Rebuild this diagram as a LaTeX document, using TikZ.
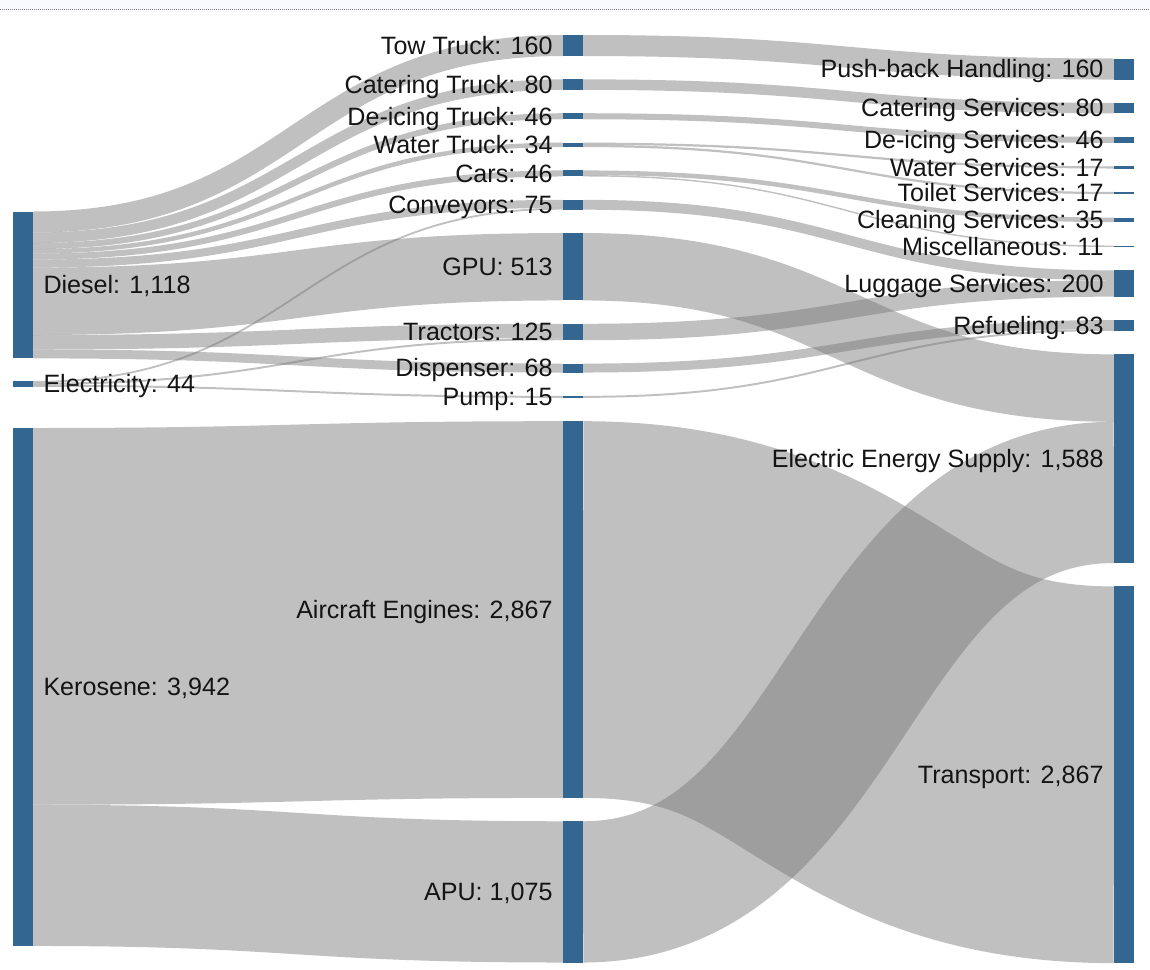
\documentclass[tikz,border=0pt]{standalone}
\usepackage{fontspec}
\setmainfont{Liberation Sans}
\usetikzlibrary{calc}
\pgfdeclarelayer{bands}
\pgfsetlayers{bands,main}

\definecolor{barblue}{RGB}{51,102,145}
\definecolor{bandgray}{RGB}{118,118,118}
\definecolor{inktext}{RGB}{20,20,20}
\definecolor{panel}{RGB}{248,250,253}
\definecolor{rule}{RGB}{120,120,120}

% pixels per unit of flow
\def\skk{0.1314}

% a node bar: name, x, top, value
\newcommand\sknode[4]{%
  \pgfmathsetmacro\skh{max(1,#4*\skk)}%
  \node[skbar, minimum height=\skh pt, anchor=north west] (#1) at (#2,#3) {};%
}
% label to the right / left of a bar
\newcommand\sklabelR[2]{\node[sklbl, anchor=base west] (#1-l) at ($(#1.east)+(10.5,8.8)$) {#2};}
\newcommand\sklabelL[2]{\node[sklbl, anchor=base east] (#1-l) at ($(#1.west)+(-10.5,8.8)$) {#2};}
% a band: source, offset in source, target, offset in target, value
\newcommand\skflow[5]{%
  \pgfmathsetmacro\skw{max(1,#5*\skk)}%
  \pgfmathsetmacro\sks{(#2+#5/2)*\skk}%
  \pgfmathsetmacro\skt{(#4+#5/2)*\skk}%
  \draw[flowband, line width=\skw pt]
    let \p1=($(#1.north east)+(0,\sks)$), \p2=($(#3.north west)+(0,\skt)$) in
    (\p1) .. controls ({(\x1+\x2)/2},\y1) and ({(\x1+\x2)/2},\y2) .. (\p2);%
}

\tikzset{
  skbar/.style={fill=barblue, draw=none, minimum width=20pt, inner sep=0pt, outer sep=0pt},
  sklbl/.style={inner sep=0pt, outer sep=0pt, text=inktext, font=\fontsize{25.1pt}{30pt}\selectfont},
  flowband/.style={draw=bandgray, draw opacity=0.46, line cap=butt},
}

\begin{document}
\begin{tikzpicture}[x=1pt, y=-1pt]
\useasboundingbox (0,0) rectangle (1150,969);
\fill[panel] (0,0) rectangle (1150,9.5);
\draw[rule, line width=1pt, dash pattern=on 1pt off 1pt] (0,9.5) -- (1150,9.5);

% sources
\sknode{diesel}{13}{211.5}{1118}
\sknode{elec}{13}{381}{44}
\sknode{kero}{13}{428}{3942}

% equipment
\sknode{towT}{563}{35}{160}
\sknode{catT}{563}{79.37}{80}
\sknode{deiT}{563}{113.23}{46}
\sknode{watT}{563}{142.62}{34}
\sknode{cars}{563}{170.44}{46}
\sknode{conv}{563}{199.83}{75}
\sknode{gpu}{563}{233.04}{513}
\sknode{tract}{563}{323.8}{125}
\sknode{disp}{563}{363.58}{68}
\sknode{pump}{563}{395.87}{15}
\sknode{eng}{563}{421.19}{2867}
\sknode{apu}{563}{821.26}{1075}

% services
\sknode{push}{1114}{58.5}{160}
\sknode{catS}{1114}{102.92}{80}
\sknode{deiS}{1114}{136.83}{46}
\sknode{watS}{1114}{166.27}{17}
\sknode{toil}{1114}{191.9}{17}
\sknode{clean}{1114}{217.53}{35}
\sknode{misc}{1114}{245.53}{11}
\sknode{lugg}{1114}{270.38}{200}
\sknode{refuel}{1114}{320.06}{83}
\sknode{ees}{1114}{354.37}{1588}
\sknode{trans}{1114}{586.43}{2867}

\begin{pgfonlayer}{bands}
\skflow{diesel}{0}{towT}{0}{160}
\skflow{diesel}{160}{catT}{0}{80}
\skflow{diesel}{240}{deiT}{0}{46}
\skflow{diesel}{286}{watT}{0}{34}
\skflow{diesel}{320}{cars}{0}{46}
\skflow{diesel}{366}{conv}{0}{61}
\skflow{diesel}{427}{gpu}{0}{513}
\skflow{diesel}{940}{tract}{0}{110}
\skflow{diesel}{1050}{disp}{0}{68}
\skflow{elec}{0}{conv}{61}{14}
\skflow{elec}{14}{tract}{110}{15}
\skflow{elec}{29}{pump}{0}{15}
\skflow{kero}{0}{eng}{0}{2867}
\skflow{kero}{2867}{apu}{0}{1075}

\skflow{towT}{0}{push}{0}{160}
\skflow{catT}{0}{catS}{0}{80}
\skflow{deiT}{0}{deiS}{0}{46}
\skflow{watT}{0}{watS}{0}{17}
\skflow{watT}{17}{toil}{0}{17}
\skflow{cars}{0}{clean}{0}{35}
\skflow{cars}{35}{misc}{0}{11}
\skflow{conv}{0}{lugg}{0}{75}
\skflow{tract}{0}{lugg}{75}{125}
\skflow{gpu}{0}{ees}{0}{513}
\skflow{apu}{0}{ees}{513}{1075}
\skflow{disp}{0}{refuel}{0}{68}
\skflow{pump}{0}{refuel}{68}{15}
\skflow{eng}{0}{trans}{0}{2867}
\end{pgfonlayer}

% labels
\sklabelR{diesel}{Diesel: 1,118}
\sklabelR{elec}{Electricity: 44}
\sklabelR{kero}{Kerosene: 3,942}

\sklabelL{towT}{Tow Truck: 160}
\sklabelL{catT}{Catering Truck: 80}
\sklabelL{deiT}{De-icing Truck: 46}
\sklabelL{watT}{Water Truck: 34}
\sklabelL{cars}{Cars: 46}
\sklabelL{conv}{Conveyors: 75}
\sklabelL{gpu}{GPU: 513}
\sklabelL{tract}{Tractors: 125}
\sklabelL{disp}{Dispenser: 68}
\sklabelL{pump}{Pump: 15}
\sklabelL{eng}{Aircraft Engines: 2,867}
\sklabelL{apu}{APU: 1,075}

\sklabelL{push}{Push-back Handling: 160}
\sklabelL{catS}{Catering Services: 80}
\sklabelL{deiS}{De-icing Services: 46}
\sklabelL{watS}{Water Services: 17}
\sklabelL{toil}{Toilet Services: 17}
\sklabelL{clean}{Cleaning Services: 35}
\sklabelL{misc}{Miscellaneous: 11}
\sklabelL{lugg}{Luggage Services: 200}
\sklabelL{refuel}{Refueling: 83}
\sklabelL{ees}{Electric Energy Supply: 1,588}
\sklabelL{trans}{Transport: 2,867}
\end{tikzpicture}
\end{document}
